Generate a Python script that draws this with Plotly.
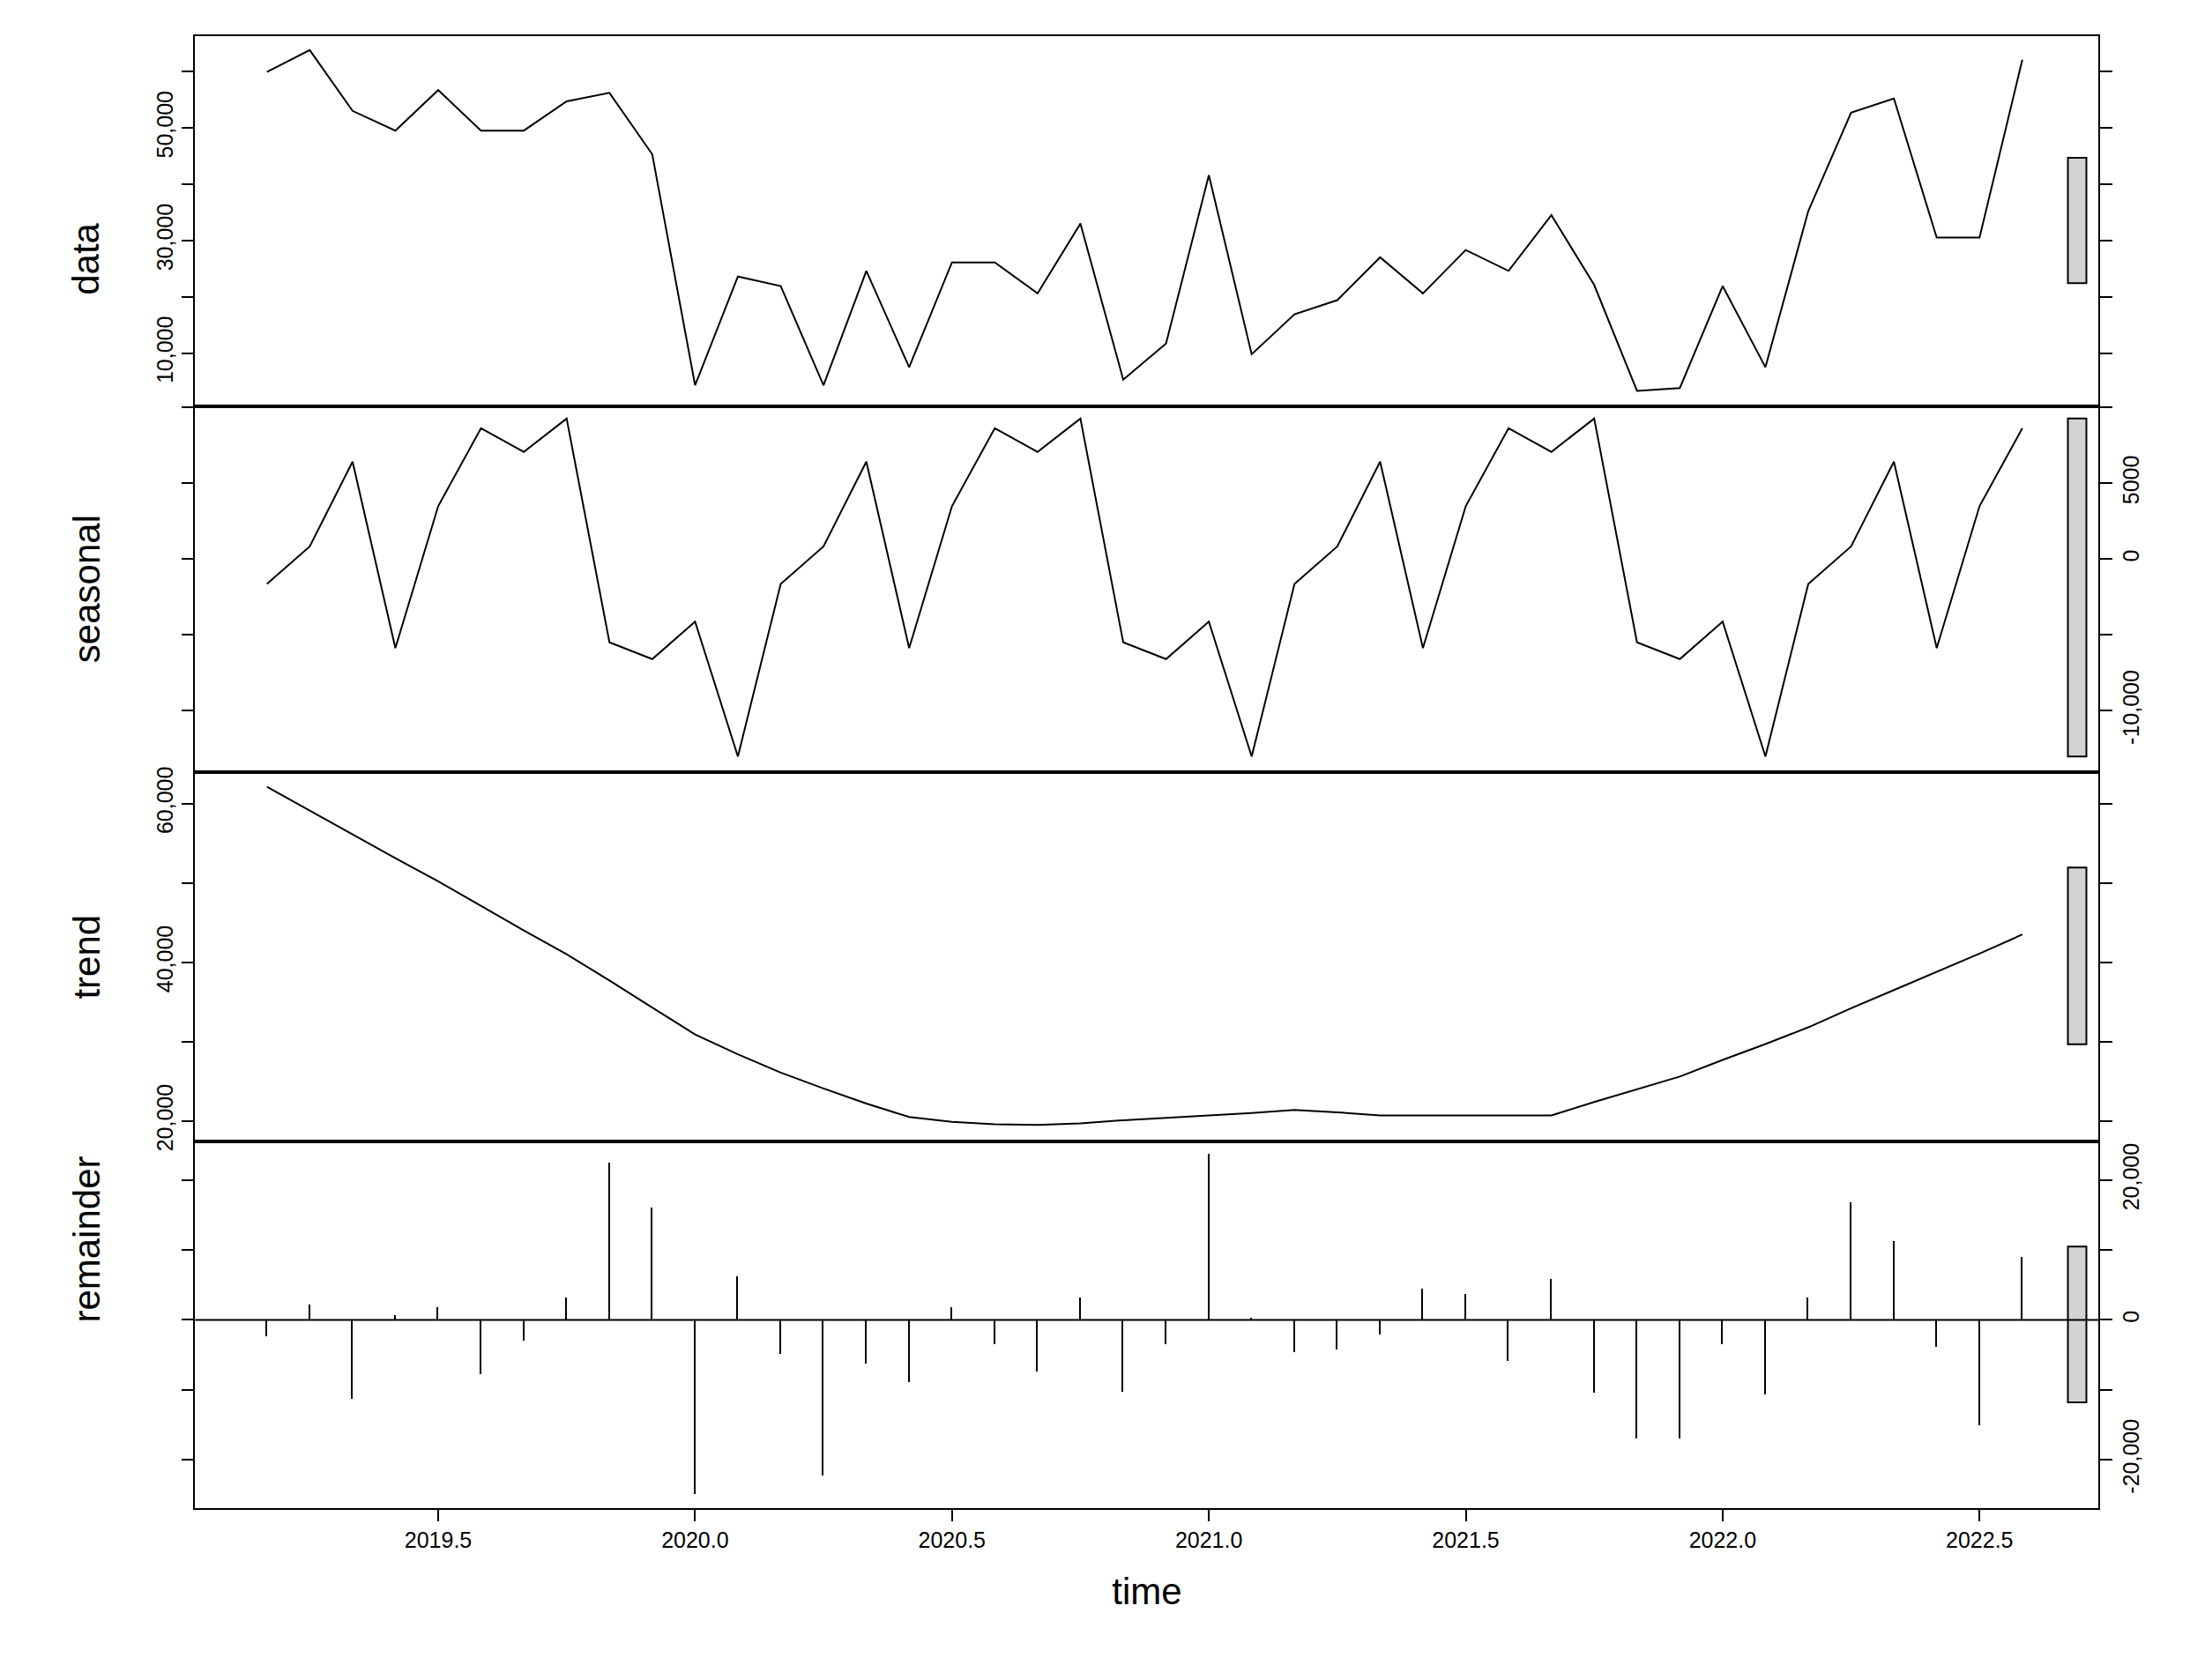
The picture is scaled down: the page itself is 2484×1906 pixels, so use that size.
import plotly.graph_objects as go

time = [2019 + (2 + i) / 12 for i in range(42)]

data = [59900, 63800, 53000, 49500, 56700, 49500, 49500, 54700, 56200, 45300,
        4300, 23600, 21900, 4300, 24600, 7500, 26100, 26100, 20600, 33000,
        5300, 11700, 41600, 9800, 16900, 19400, 27000, 20600, 28300, 24600,
        34500, 22100, 3300, 3800, 21900, 7500, 35200, 52700, 55200, 30500,
        30500, 62100]

seasonal = [-1650, 825, 6420, -5870, 3480, 8620, 7060, 9260, -5500, -6600, -4130, -13020,
            -1650, 825, 6420, -5870, 3480, 8620, 7060, 9260, -5500, -6600, -4130, -13020,
            -1650, 825, 6420, -5870, 3480, 8620, 7060, 9260, -5500, -6600, -4130, -13020,
            -1650, 825, 6420, -5870, 3480, 8620]

trend = [62100, 59100, 56100, 53100, 50200, 47100, 44000, 41000, 37700, 34300,
         30900, 28400, 26100, 24100, 22200, 20500, 19900, 19600, 19500, 19700,
         20100, 20400, 20700, 21000, 21400, 21100, 20700, 20700, 20700, 20700,
         20700, 22400, 24000, 25600, 27700, 29700, 31800, 34200, 36500, 38800,
         41100, 43500]

remainder = [-2400, 2200, -11300, 600, 1700, -7800, -3000, 3200, 22500, 16000,
             -25000, 6200, -4900, -22300, -6300, -8900, 1700, -3500, -7400, 3200,
             -10300, -3500, 23700, 200, -4700, -4300, -2200, 4400, 3600, -5900,
             5800, -10500, -17000, -17000, -3500, -10700, 3200, 16800, 11200, -3900,
             -15100, 9000]

xticks = [2019.5, 2020.0, 2020.5, 2021.0, 2021.5, 2022.0, 2022.5]

FONT = "Liberation Sans"
domains = [[0.7636, 0.9858], [0.5439, 0.7636], [0.3216, 0.5439], [0.1019, 0.3216]]
yranges = [[620, 66300], [-14030, 10090], [17370, 64000], [-26870, 25470]]
titles = ["data", "seasonal", "trend", "remainder"]
sides = ["left", "right", "left", "right"]
tickinfo = [
    ([0, 10000, 20000, 30000, 40000, 50000, 60000], ["", "10,000", "", "30,000", "", "50,000", ""]),
    ([-10000, -5000, 0, 5000, 10000], ["-10,000", "", "0", "5000", ""]),
    ([20000, 30000, 40000, 50000, 60000], ["20,000", "", "40,000", "", "60,000"]),
    ([-20000, -10000, 0, 10000, 20000], ["-20,000", "", "0", "", "20,000"]),
]
xr = [2019.027, 2022.732]

fig = go.Figure()
series = [data, seasonal, trend]
for k in range(3):
    fig.add_trace(go.Scatter(x=time, y=series[k], mode="lines",
                             line=dict(color="black", width=2),
                             xaxis="x%d" % (k + 1) if k else "x", yaxis="y%d" % (k + 1) if k else "y"))
fig.add_trace(go.Bar(x=time, y=remainder, width=0.0025, marker=dict(color="black", line=dict(width=0)),
                     xaxis="x4", yaxis="y4"))

comps = [data, seasonal, trend, remainder]
barh = min(max(c) - min(c) for c in comps)
shapes = []
for k, c in enumerate(comps):
    mid = (max(c) + min(c)) / 2
    shapes.append(dict(type="rect", xref="x%d" % (k + 1) if k else "x", yref="y%d" % (k + 1) if k else "y",
                       x0=2022.672, x1=2022.708, y0=mid - barh / 2, y1=mid + barh / 2,
                       fillcolor="#d3d3d3", line=dict(color="black", width=2)))
shapes.append(dict(type="line", xref="x4 domain", yref="y4", x0=0, x1=1, y0=0, y1=0,
                   line=dict(color="black", width=2)))

annotations = []
for k in range(4):
    annotations.append(dict(text=titles[k], xref="paper", yref="paper", x=0.026,
                            y=sum(domains[k]) / 2, showarrow=False, textangle=-90,
                            font=dict(family=FONT, size=42, color="black")))

layout = dict(width=2484, height=1906, plot_bgcolor="white", paper_bgcolor="white",
              margin=dict(l=0, r=0, t=0, b=0), showlegend=False, shapes=shapes,
              annotations=annotations, bargap=0)
for k in range(4):
    xa = "xaxis" if k == 0 else "xaxis%d" % (k + 1)
    ya = "yaxis" if k == 0 else "yaxis%d" % (k + 1)
    yname = "y" if k == 0 else "y%d" % (k + 1)
    bottom = k == 3
    layout[xa] = dict(domain=[0.0859, 0.9551], range=xr, anchor=yname, showgrid=False, zeroline=False,
                      showline=True, linecolor="black", linewidth=1.5, mirror=True,
                      tickvals=xticks if bottom else [], ticktext=[f"{v:.1f}" for v in xticks] if bottom else [],
                      ticks="outside" if bottom else "", ticklen=14, tickwidth=2, tickcolor="black",
                      tickfont=dict(family=FONT, size=25, color="black"),
                      title=dict(text="time", font=dict(family=FONT, size=42, color="black"), standoff=30) if bottom else None)
    tv, tt = tickinfo[k]
    layout[ya] = dict(domain=domains[k], range=yranges[k], anchor="x" if k == 0 else "x%d" % (k + 1),
                      side=sides[k], showgrid=False, zeroline=False, showline=True, linecolor="black",
                      linewidth=1.5, mirror="ticks", ticks="outside", ticklen=14, tickwidth=2, tickcolor="black",
                      tickvals=tv, ticktext=tt, tickangle=-90,
                      tickfont=dict(family=FONT, size=25, color="black"))
fig.update_layout(**layout)
fig.write_html("out.html")
